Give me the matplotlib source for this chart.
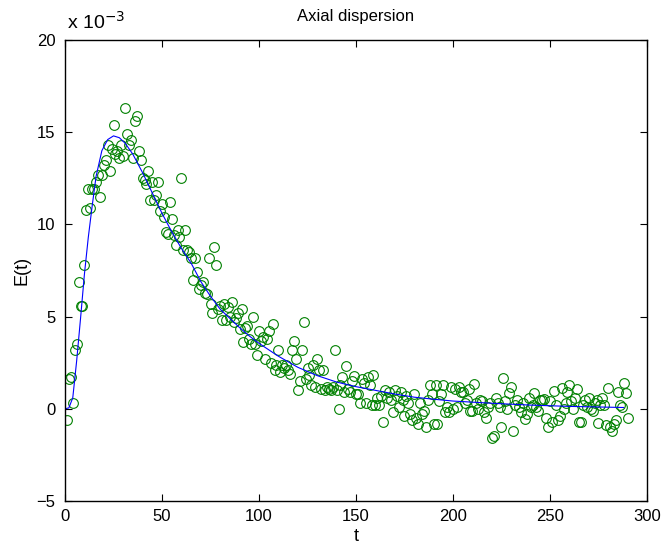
import matplotlib
matplotlib.use("Agg")
import matplotlib.pyplot as plt
import numpy as np

plt.rcParams["font.family"] = ["Liberation Sans", "DejaVu Sans"]

# measured E(t), in units of 1e-3, one sample per time unit starting at t=1
t_data = np.arange(1, 291)
e_data = [
    -0.6, 1.6, 1.7, 0.3, 3.2, 3.5, 6.9, 5.6, 5.6, 7.8,
    10.8, 11.9, 10.9, 11.9, 11.9, 12.3, 12.7, 11.5, 12.7, 13.2,
    13.5, 14.3, 12.9, 14.1, 15.4, 13.8, 14.0, 13.6, 14.3, 13.7,
    16.3, 14.9, 14.3, 14.6, 13.6, 15.6, 15.9, 14.0, 13.5, 12.5,
    12.4, 12.2, 12.9, 11.3, 12.3, 11.3, 11.6, 12.3, 10.7, 11.1,
    10.4, 9.6, 9.5, 11.2, 10.3, 9.4, 8.9, 9.7, 9.3, 12.5,
    8.6, 9.7, 8.6, 8.5, 8.2, 7.0, 8.2, 7.4, 6.5, 6.7,
    6.9, 6.3, 6.2, 8.2, 5.7, 5.2, 8.8, 7.8, 5.4, 5.6,
    4.8, 5.7, 4.8, 5.5, 5.0, 5.8, 4.7, 4.9, 5.2, 4.3,
    5.4, 3.6, 4.4, 4.5, 3.8, 3.5, 5.0, 3.5, 2.9, 4.2,
    3.7, 3.9, 2.7, 3.8, 4.2, 2.5, 4.6, 2.1, 2.4, 3.2,
    2.0, 2.4, 2.2, 2.4, 2.1, 1.9, 3.2, 3.65, 2.7, 1.0,
    1.5, 3.2, 4.7, 1.6, 2.2, 1.85, 1.3, 2.4, 1.2, 2.7,
    2.1, 1.1, 2.1, 1.0, 1.2, 1.1, 1.0, 1.2, 3.2, 1.0,
    0.0, 1.3, 1.7, 0.9, 2.3, 1.1, 0.9, 1.5, 1.8, 0.8,
    0.8, 0.3, 1.6, 1.4, 0.3, 1.7, 1.3, 0.2, 1.85, 0.2,
    0.6, 0.2, 0.7, -0.7, 1.0, 0.6, 0.9, 0.5, -0.2, 1.0,
    0.7, 0.1, 0.9, 0.5, -0.4, 0.7, 0.3, -0.3, -0.6, 0.8,
    -0.5, -0.8, 0.3, -0.3, -0.1, -1.0, 0.5, 1.3, 0.8, -0.85,
    1.3, -0.85, 0.4, 0.8, 1.3, -0.2, 0.1, -0.2, 1.2, 0.0,
    1.1, 0.1, 1.2, 0.9, 0.9, 0.3, 0.5, 1.1, -0.1, -0.1,
    1.36, 0.3, 0.0, 0.5, 0.4, -0.2, -0.5, 0.1, 0.3, -1.6,
    -1.47, 0.6, 0.3, 0.1, -1.0, 1.67, 0.4, 0.0, 0.85, 1.2,
    -1.23, 0.2, 0.5, 0.1, -0.2, 0.3, -0.56, -0.3, 0.6, 0.1,
    0.2, 0.85, 0.1, -0.1, 0.5, 0.5, 0.52, -0.5, -1.0, 0.4,
    -0.7, 0.98, 0.2, -0.6, -0.4, 1.12, 0.0, 0.3, 0.9, 1.3,
    0.4, 0.0, 0.6, 1.1, -0.7, -0.7, 0.2, 0.5, 0.1, 0.6,
    0.0, -0.1, 0.3, 0.5, -0.78, 0.2, 0.58, 0.2, -0.9, 1.12,
    -1.0, -1.2, -0.8, -0.6, 0.9, 0.2, 0.12, 1.39, 0.85, -0.51,
]

# fitted model curve (units of 1e-3)
t_fit = [0, 2, 4, 6, 8, 10, 12, 14, 16, 19, 22, 25, 28, 31, 35, 40, 45, 50,
         55, 60, 65, 70, 75, 80, 85, 90, 95, 100, 110, 120, 130, 140, 150,
         160, 170, 180, 190, 200, 220, 240, 260, 288]
e_fit = [0.0, 0.05, 0.6, 2.6, 4.9, 7.3, 9.3, 11.0, 12.6, 14.0, 14.6, 14.8,
         14.7, 14.4, 13.8, 12.8, 11.7, 10.6, 9.6, 8.7, 7.9, 6.9, 6.1, 5.4,
         4.9, 4.4, 3.95, 3.55, 2.85, 2.25, 1.8, 1.45, 1.2, 1.0, 0.8, 0.63,
         0.52, 0.42, 0.3, 0.2, 0.13, 0.07]

fig = plt.figure(figsize=(6.71, 5.5), dpi=100)
ax = fig.add_axes([0.0969, 0.0891, 0.8673, 0.8382])

ax.plot(t_data, e_data, "o", markersize=7, markerfacecolor="none",
        markeredgecolor="#008000", markeredgewidth=0.8)
ax.plot(t_fit, e_fit, "-", color="#0000ff", linewidth=0.8)

ax.set_xlim(0, 300)
ax.set_ylim(-5, 20)
ax.set_xticks(range(0, 301, 50))
ax.set_yticks(range(-5, 21, 5))
ax.set_yticklabels(["\u22125", "0", "5", "10", "15", "20"])
ax.tick_params(direction="in", top=True, right=True, labelsize=12, length=5)
ax.tick_params(axis="x", pad=6)
ax.tick_params(axis="y", pad=7)
for s in ax.spines.values():
    s.set_linewidth(1.0)

ax.set_title("Axial dispersion", fontsize=12, pad=14)
ax.set_xlabel("t", fontsize=13, labelpad=3)
ax.set_ylabel("E(t)", fontsize=13, labelpad=4)
ax.text(0.003, 1.015, r"x 10$^{-3}$", transform=ax.transAxes, fontsize=14,
        ha="left", va="bottom")

fig.savefig("out.png", dpi=100)
